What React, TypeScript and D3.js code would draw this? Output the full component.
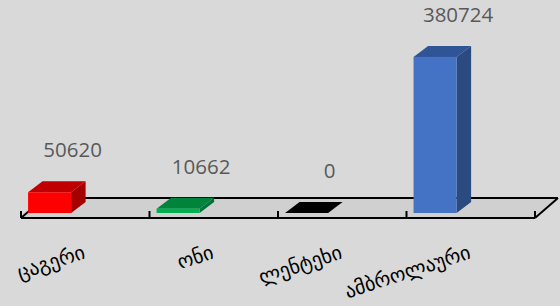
import { useEffect, useRef } from 'react'
import * as d3 from 'd3'

const categories = ['ცაგერი', 'ონი', 'ლენტეხი', 'ამბროლაური']
const values = [50620, 10662, 0, 380724]
const frontColors = ['#FF0000', '#00B050', '#000000', '#4472C4']
const topColors = ['#C00000', '#00843C', '#000000', '#2F5597']
const sideColors = ['#A50000', '#00733A', '#000000', '#2B4A80']

const W = 560
const H = 306

export default function App() {
  const svgRef = useRef<SVGSVGElement>(null)

  useEffect(() => {
    if (!svgRef.current) return
    const svg = d3.select(svgRef.current)
    svg.selectAll('*').remove()

    svg.append('rect').attr('width', W).attr('height', H).attr('fill', '#D9D9D9')

    const floorY = 218
    const floorDx = 23
    const floorDy = -20
    const x = d3.scaleBand<string>().domain(categories).range([21, 535]).padding(0)
    const bw = x.bandwidth()
    const y = d3.scaleLinear().domain([0, 400000]).range([213, 49])

    const x0 = 21
    const x1 = 535

    // floor
    svg.append('path')
      .attr('d', `M${x0},${floorY} L${x1},${floorY} L${x1 + floorDx},${floorY + floorDy} L${x0 + floorDx},${floorY + floorDy} Z`)
      .attr('fill', '#D0D0D0')
      .attr('stroke', 'none')

    const lines = svg.append('g').attr('stroke', '#000').attr('stroke-width', 2).attr('fill', 'none')
    lines.append('line')
      .attr('x1', x0 + floorDx).attr('y1', floorY + floorDy)
      .attr('x2', x1 + floorDx).attr('y2', floorY + floorDy)
    lines.append('line')
      .attr('x1', x1).attr('y1', floorY)
      .attr('x2', x1 + floorDx).attr('y2', floorY + floorDy)
    lines.append('line')
      .attr('x1', x0).attr('y1', floorY)
      .attr('x2', x0 + floorDx).attr('y2', floorY + floorDy)
    lines.append('line')
      .attr('x1', x0).attr('y1', floorY)
      .attr('x2', x1).attr('y2', floorY)

    const tickXs = categories.map(c => x(c)!).concat([x1])
    tickXs.forEach(tx => {
      lines.append('line')
        .attr('x1', tx).attr('y1', floorY)
        .attr('x2', tx).attr('y2', floorY - 7)
    })

    // 3D bars
    const dDx = 14.5
    const dDy = -11
    const base = y(0)
    categories.forEach((c, i) => {
      const bx = x(c)! + bw * 0.055
      const w = bw * 0.335
      const top = y(values[i])
      const g = svg.append('g')
      // side
      g.append('path')
        .attr('d', `M${bx + w},${base} L${bx + w + dDx},${base + dDy} L${bx + w + dDx},${top + dDy} L${bx + w},${top} Z`)
        .attr('fill', sideColors[i])
      // top
      g.append('path')
        .attr('d', `M${bx},${top} L${bx + w},${top} L${bx + w + dDx},${top + dDy} L${bx + dDx},${top + dDy} Z`)
        .attr('fill', topColors[i])
      // front
      g.append('rect')
        .attr('x', bx).attr('y', top)
        .attr('width', w).attr('height', base - top)
        .attr('fill', frontColors[i])

      svg.append('text')
        .attr('x', bx + w / 2 + 23)
        .attr('y', top - 35)
        .attr('text-anchor', 'middle')
        .attr('font-family', 'Open Sans, sans-serif')
        .attr('font-size', 20.5)
        .attr('fill', '#595959')
        .text(d3.format('d')(values[i]))

      // category label, rotated
      const lx = x(c)! + bw / 2 + 1
      const ly = 258
      svg.append('text')
        .attr('transform', `translate(${lx},${ly}) rotate(-18)`)
        .attr('text-anchor', 'end')
        .attr('font-family', 'DejaVu Sans, sans-serif')
        .attr('font-size', 20)
        .attr('fill', '#000')
        .text(c)
    })
  }, [])

  return (
    <svg
      ref={svgRef}
      width={W}
      height={H}
      style={{ position: 'absolute', left: 0, top: 0, display: 'block' }}
    />
  )
}
